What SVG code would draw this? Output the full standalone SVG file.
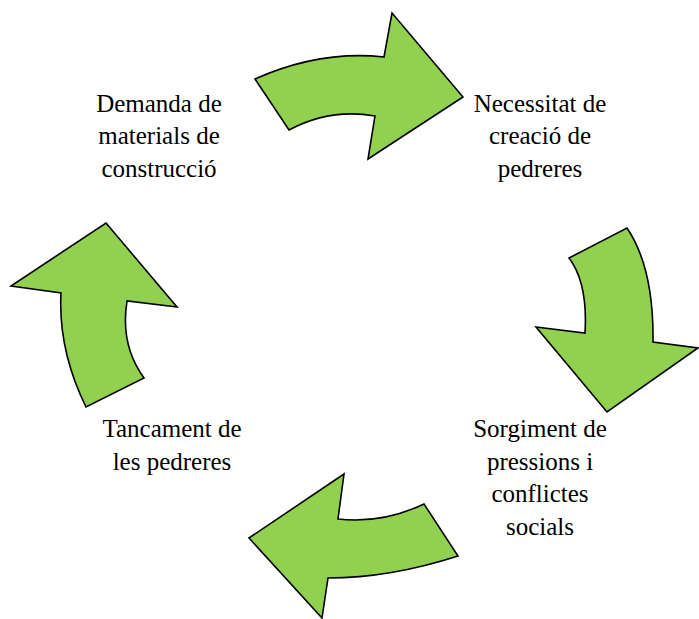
<svg xmlns="http://www.w3.org/2000/svg" width="699" height="619" viewBox="0 0 699 619">
<style>
.arr{fill:#92D050;stroke:#000;stroke-width:1.6;stroke-linejoin:miter}
.t{font-family:'Liberation Serif','Times New Roman','DejaVu Serif',serif;font-size:25px;fill:#000;text-anchor:middle}
</style>
<rect width="699" height="619" fill="#fff"/>
<g id="connectors">
<path id="arrow-top" class="arr" d="M255,79 Q320,50 384,57 L392,13 L463,97 L368,159 L375,116 Q330,108 289,130 Z"/>
<path id="arrow-right" class="arr" d="M569,258 L627,228 Q654,268 653,342 L698,348 L607,412 L536,327 L585,333 Q588,283 569,258 Z"/>
<path id="arrow-bottom" class="arr" d="M249,538 L344,474 L338,519 Q382,524 424,504 L458,556 Q390,578 328,578 L322,618 Z"/>
<path id="arrow-left" class="arr" d="M106,223 L177,307 L127,301 Q120,345 144,378 L86,407 Q58,350 61,293 L11,286 Z"/>
</g>
<g id="node-demanda" class="t" font-family="Liberation Serif, serif">
<text x="159" y="112">Demanda de</text>
<text x="159" y="144">materials de</text>
<text x="159" y="177">construcció</text>
</g>
<g id="node-necessitat" class="t" font-family="Liberation Serif, serif">
<text x="540" y="112">Necessitat de</text>
<text x="540" y="144">creació de</text>
<text x="540" y="177">pedreres</text>
</g>
<g id="node-sorgiment" class="t" font-family="Liberation Serif, serif">
<text x="540" y="437">Sorgiment de</text>
<text x="540" y="470">pressions i</text>
<text x="540" y="502">conflictes</text>
<text x="540" y="535">socials</text>
</g>
<g id="node-tancament" class="t" font-family="Liberation Serif, serif">
<text x="172" y="437">Tancament de</text>
<text x="172" y="470">les pedreres</text>
</g>
</svg>
